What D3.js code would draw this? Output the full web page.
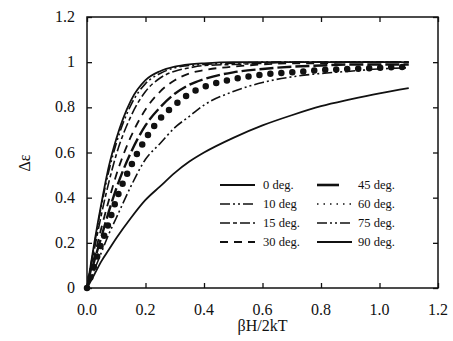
<!DOCTYPE html>
<head>
<meta charset='utf-8'>
<style>
  body { margin: 0; background: #fff; }
  .frame { fill: none; stroke: #111; stroke-width: 1.5px; }
  .curve { fill: none; stroke: #111; }
</style>
</head>
<body>
<div id='vis'></div>
<script src='https://d3js.org/d3.v7.min.js'></script>
<script>
  // beta H / 2kT sample points
  const xValues = [0, 0.025, 0.05, 0.075, 0.1, 0.15, 0.2, 0.25, 0.3, 0.35, 0.4, 0.5, 0.6, 0.7, 0.8, 0.9, 1.0, 1.1]

  const deg0  = [0, 0.20, 0.38, 0.54, 0.66, 0.83, 0.92, 0.96, 0.98, 0.99, 0.995, 1.0, 1.0, 1.0, 1.0, 1.0, 1.0, 1.0]
  const deg10 = [0, 0.19, 0.37, 0.52, 0.64, 0.81, 0.905, 0.95, 0.975, 0.985, 0.99, 0.995, 1.0, 1.0, 1.0, 1.0, 1.0, 1.0]
  const deg15 = [0, 0.17, 0.33, 0.47, 0.59, 0.76, 0.87, 0.93, 0.96, 0.975, 0.985, 0.99, 0.995, 1.0, 1.0, 1.0, 1.0, 1.0]
  const deg30 = [0, 0.14, 0.27, 0.39, 0.50, 0.67, 0.79, 0.87, 0.92, 0.95, 0.965, 0.98, 0.99, 0.995, 0.995, 1.0, 1.0, 1.0]
  const deg45 = [0, 0.12, 0.23, 0.34, 0.44, 0.60, 0.72, 0.80, 0.86, 0.90, 0.925, 0.955, 0.97, 0.98, 0.985, 0.99, 0.99, 0.99]
  const deg60 = [0, 0.10, 0.20, 0.29, 0.39, 0.54, 0.66, 0.75, 0.81, 0.86, 0.89, 0.925, 0.945, 0.955, 0.965, 0.97, 0.975, 0.98]
  const deg75 = [0, 0.08, 0.16, 0.24, 0.31, 0.45, 0.57, 0.64, 0.71, 0.76, 0.81, 0.87, 0.91, 0.935, 0.95, 0.96, 0.97, 0.975]
  const deg90 = [0, 0.06, 0.12, 0.17, 0.22, 0.31, 0.39, 0.45, 0.51, 0.56, 0.60, 0.665, 0.72, 0.765, 0.805, 0.835, 0.862, 0.885]

  const labels = ['0 deg.', '10 deg', '15 deg.', '30 deg.', '45 deg.', '60 deg.', '75 deg.', '90 deg.']
  const xTicks = [0, 0.2, 0.4, 0.6, 0.8, 1.0, 1.2]
  const yTicks = [0, 0.2, 0.4, 0.6, 0.8, 1, 1.2]

  const series = [deg0, deg10, deg15, deg30, deg45, deg60, deg75, deg90]

  // line styles, same order as labels (leg = style of the legend sample if different)
  const styles = [
    {w: 1.8, dash: null},
    {w: 1.6, dash: '10,3,2,3,2,3'},
    {w: 1.6, dash: '10,3,4,3'},
    {w: 1.8, dash: '8,6'},
    {w: 2.4, dash: '14,4', leg: {w: 2.6, dash: null}},
    {w: 6.5, dash: '0,11', cap: 'round', leg: {w: 1.6, dash: '1.5,5'}},
    {w: 1.6, dash: '10,3,2,3,2,3'},
    {w: 1.8, dash: null}
  ]

  const W = 453, H = 341
  const margin = {top: 17, right: 15, bottom: 53, left: 87}
  const width = W - margin.left - margin.right
  const height = H - margin.top - margin.bottom
  const serif = 'Liberation Serif'

  const x = d3.scaleLinear().domain([0, 1.2]).range([0, width])
  const y = d3.scaleLinear().domain([0, 1.2]).range([height, 0])

  const svg = d3.select('#vis').append('svg')
    .attr('width', W)
    .attr('height', H)

  const g = svg.append('g')
    .attr('transform', `translate(${margin.left}, ${margin.top})`)

  // curves
  const line = d3.line()
    .x((d, i) => x(xValues[i]))
    .y(d => y(d))
    .curve(d3.curveMonotoneX)

  series.forEach((s, i) => {
    g.append('path')
      .attr('class', 'curve')
      .attr('d', line(s))
      .attr('stroke-width', styles[i].w)
      .attr('stroke-dasharray', styles[i].dash)
      .attr('stroke-linecap', styles[i].cap || 'butt')
  })

  // frame and inward ticks
  g.append('rect')
    .attr('class', 'frame')
    .attr('width', width)
    .attr('height', height)

  const tickLen = 5
  g.append('g').call(d3.axisBottom(x).tickValues(xTicks).tickSize(-tickLen).tickFormat(''))
    .attr('transform', `translate(0, ${height})`)
  g.append('g').call(d3.axisTop(x).tickValues(xTicks).tickSize(-tickLen).tickFormat(''))
  g.append('g').call(d3.axisLeft(y).tickValues(yTicks).tickSize(-tickLen).tickFormat(''))
  g.append('g').call(d3.axisRight(y).tickValues(yTicks).tickSize(-tickLen).tickFormat(''))
    .attr('transform', `translate(${width}, 0)`)
  g.selectAll('.domain').remove()
  g.selectAll('.tick line').attr('stroke', '#111').attr('stroke-width', 1.3)

  // tick labels
  g.selectAll('.xlab')
    .data(xTicks)
    .enter()
    .append('text')
    .attr('x', d => x(d))
    .attr('y', height + 27)
    .attr('text-anchor', 'middle')
    .style('font-family', serif)
    .style('font-size', '16px')
    .attr('fill', '#111')
    .text(d => d.toFixed(1))

  g.selectAll('.ylab')
    .data(yTicks)
    .enter()
    .append('text')
    .attr('x', -12)
    .attr('y', d => y(d) + 5)
    .attr('text-anchor', 'end')
    .style('font-family', serif)
    .style('font-size', '16px')
    .attr('fill', '#111')
    .text(d => d === 0 || d === 1 ? String(d) : d.toFixed(1))

  // axis titles
  svg.append('text')
    .attr('x', margin.left + x(0.6))
    .attr('y', 331)
    .attr('text-anchor', 'middle')
    .style('font-family', serif)
    .style('font-size', '16px')
    .attr('fill', '#111')
    .text('βH/2kT')

  svg.append('text')
    .attr('transform', 'translate(30, 163) rotate(-90)')
    .attr('text-anchor', 'middle')
    .style('font-family', serif)
    .style('font-size', '16px')
    .attr('fill', '#111')
    .text('Δε')

  // legend
  const legend = svg.append('g')
  labels.forEach((lab, i) => {
    const col = Math.floor(i / 4), row = i % 4
    const ly = 185 + row * 19
    const x0 = col === 0 ? 220 : 317
    const x1 = col === 0 ? 255 : (i === 4 ? 339 : 352)
    const st = styles[i].leg || styles[i]
    legend.append('line')
      .attr('x1', x0).attr('x2', x1)
      .attr('y1', ly).attr('y2', ly)
      .attr('stroke', '#111')
      .attr('stroke-width', st.w)
      .attr('stroke-dasharray', st.dash)
    legend.append('text')
      .attr('x', col === 0 ? 263 : 358)
      .attr('y', ly + 4)
      .style('font-family', serif)
      .style('font-size', '12.5px')
      .attr('fill', '#111')
      .text(lab)
  })
</script>
</body>
